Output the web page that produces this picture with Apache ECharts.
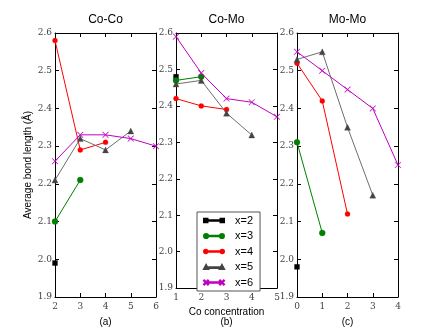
<!DOCTYPE html>
<html>
<head>
<meta charset="utf-8">
<script src="https://cdn.jsdelivr.net/npm/echarts@6/dist/echarts.min.js"></script>
<style>
  html, body { margin: 0; padding: 0; background: #fff; }
  #chart { width: 443px; height: 332px; }
</style>
</head>
<body>
<div id="chart"></div>
<script>
// series names (cluster size)
const seriesNames = ['x=2', 'x=3', 'x=4', 'x=5', 'x=6'];

// each list of values starts at the first x of its panel
const coCoX = [2, 3, 4, 5, 6];
const coCoVals = [
  [1.99],
  [2.10, 2.21],
  [2.58, 2.29, 2.31],
  [2.21, 2.32, 2.29, 2.34],
  [2.26, 2.33, 2.33, 2.32, 2.30]
];

const coMoX = [1, 2, 3, 4, 5];
const coMoVals = [
  [2.48],
  [2.47, 2.48],
  [2.42, 2.40, 2.39],
  [2.46, 2.47, 2.38, 2.32],
  [2.59, 2.49, 2.42, 2.41, 2.37]
];

const moMoX = [0, 1, 2, 3, 4];
const moMoVals = [
  [1.98],
  [2.31, 2.07],
  [2.52, 2.42, 2.12],
  [2.53, 2.55, 2.35, 2.17],
  [2.55, 2.50, 2.45, 2.40, 2.25]
];

var crossPath = 'path://M0,0.6L0.6,0L5,4.4L9.4,0L10,0.6L5.6,5L10,9.4L9.4,10L5,5.6L0.6,10L0,9.4L4.4,5Z';
// legend icons: marker - line - marker, like the original plot
var legendIcons = [
  'path://M0.5,0.5H4.5V4.5H0.5Z M4.5,2.15H19.5V2.85H4.5Z M19.5,0.5H23.5V4.5H19.5Z',
  'path://M0,2.5A2.5,2.5,0,1,1,5,2.5A2.5,2.5,0,1,1,0,2.5Z M5,2.15H19V2.85H5Z M19,2.5A2.5,2.5,0,1,1,24,2.5A2.5,2.5,0,1,1,19,2.5Z',
  'path://M0.5,2.5A2,2,0,1,1,4.5,2.5A2,2,0,1,1,0.5,2.5Z M4.5,2.15H19.5V2.85H4.5Z M19.5,2.5A2,2,0,1,1,23.5,2.5A2,2,0,1,1,19.5,2.5Z',
  'path://M0,4.5L2.5,0L5,4.5Z M5,2.65H19V3.35H5Z M19,4.5L21.5,0L24,4.5Z',
  'path://M0,0.3L0.3,0L2.5,2.2L4.7,0L5,0.3L2.8,2.5L5,4.7L4.7,5L2.5,2.8L0.3,5L0,4.7L2.2,2.5Z M5,2.2H19V2.8H5Z M19,0.3L19.3,0L21.5,2.2L23.7,0L24,0.3L21.8,2.5L24,4.7L23.7,5L21.5,2.8L19.3,5L19,4.7L21.2,2.5Z'
];
var styles = [
  { line: '#000000', marker: '#000000', symbol: 'rect', size: 5 },
  { line: '#008000', marker: '#008000', symbol: 'circle', size: 6 },
  { line: '#ff0000', marker: '#ff0000', symbol: 'circle', size: 5 },
  { line: '#6e6e6e', marker: '#444444', symbol: 'triangle', size: 6 },
  { line: '#bf00bf', marker: '#bf00bf', symbol: crossPath, size: 6 }
];

var panels = [
  { title: 'Co-Co', x: coCoX, vals: coCoVals, left: 55, label: '(a)' },
  { title: 'Co-Mo', x: coMoX, vals: coMoVals, left: 176, label: 'Co concentration\n(b)' },
  { title: 'Mo-Mo', x: moMoX, vals: moMoVals, left: 297, label: '(c)' }
];

var tickFont = { fontFamily: 'DejaVu Serif', fontSize: 9, color: '#444' };
var axisLine = { show: true, onZero: false, lineStyle: { color: '#000', width: 1 } };
var tick = { show: true, inside: true, length: 4, lineStyle: { color: '#000' } };

var grids = [], xAxes = [], yAxes = [], series = [];

panels.forEach(function (p, i) {
  grids.push({ left: p.left, width: 101, top: 33, height: 265 });
  var xmin = p.x[0], xmax = p.x[p.x.length - 1];
  // bottom axis
  xAxes.push({
    type: 'value', gridIndex: i, min: xmin, max: xmax, interval: 1,
    axisLine: axisLine, axisTick: tick, splitLine: { show: false },
    axisLabel: Object.assign({ margin: 5 }, tickFont),
    name: p.label, nameLocation: 'middle', nameGap: i === 1 ? 11 : 20,
    nameTextStyle: { fontFamily: 'Liberation Sans', fontSize: 10, color: '#000', lineHeight: 10, verticalAlign: 'top' }
  });
  // top axis (carries title)
  xAxes.push({
    type: 'value', gridIndex: i, position: 'top', min: xmin, max: xmax, interval: 1,
    axisLine: axisLine, axisTick: tick, splitLine: { show: false },
    axisLabel: { show: false },
    name: p.title, nameLocation: 'middle', nameGap: 7,
    nameTextStyle: { fontFamily: 'Liberation Sans', fontSize: 12, color: '#000' }
  });
  yAxes.push({
    type: 'value', gridIndex: i, min: 1.9, max: 2.6, interval: 0.1,
    axisLine: axisLine, axisTick: tick, splitLine: { show: false },
    axisLabel: Object.assign({ margin: 3, formatter: function (v) { return v.toFixed(1); } }, tickFont),
    name: i === 0 ? 'Average bond length (Å)' : '', nameLocation: 'middle', nameGap: 22,
    nameTextStyle: { fontFamily: 'Liberation Sans', fontSize: 10, color: '#000' }
  });
  yAxes.push({
    type: 'value', gridIndex: i, position: 'right', min: 1.9, max: 2.6, interval: 0.1,
    axisLine: axisLine, axisTick: tick, splitLine: { show: false },
    axisLabel: { show: false }
  });

  p.vals.forEach(function (vals, k) {
    var st = styles[k];
    series.push({
      name: seriesNames[k], type: 'line',
      xAxisIndex: i * 2, yAxisIndex: i * 2,
      data: vals.map(function (v, j) { return [p.x[j], v]; }),
      symbol: st.symbol, symbolSize: st.size, showSymbol: true,
      lineStyle: { color: st.line, width: 1 },
      itemStyle: { color: st.marker, borderColor: st.marker, borderWidth: 0.3 },
      clip: true, animation: false, z: 2 + k
    });
  });
});

var myChart = echarts.init(document.getElementById('chart'));
var option = {
  backgroundColor: '#fff',
  animation: false,
  grid: grids,
  xAxis: xAxes,
  yAxis: yAxes,
  legend: {
    data: seriesNames.map(function (n, k) { return { name: n, icon: legendIcons[k] }; }),
    orient: 'vertical', left: 197, top: 212,
    padding: [3, 7, 3, 6],
    itemGap: 4.5, itemWidth: 20, itemHeight: 10,
    borderColor: '#555', borderWidth: 1,
    backgroundColor: '#fff',
    textStyle: { fontFamily: 'Liberation Sans', fontSize: 11, color: '#000', padding: [0, 0, 0, 6] }
  },
  series: series
};
myChart.setOption(option);
</script>
</body>
</html>
